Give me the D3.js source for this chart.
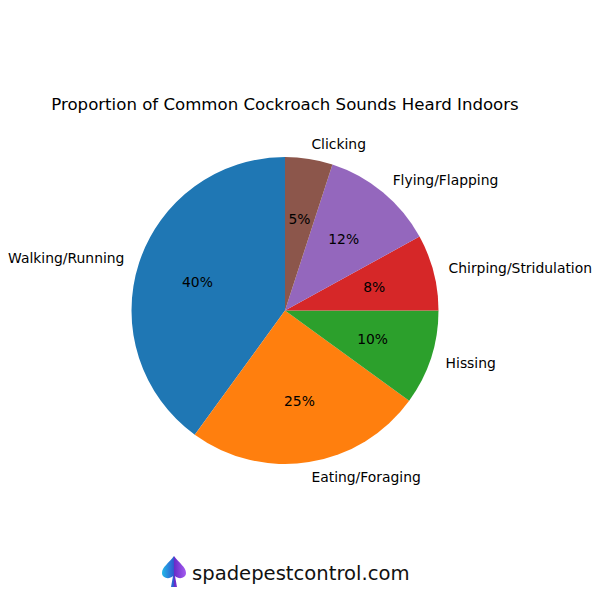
<!DOCTYPE html>
<html><head><meta charset="utf-8">
<script src="https://cdn.jsdelivr.net/npm/d3@7"></script>
<style>body{margin:0;background:#fff}svg{display:block}text{font-family:"DejaVu Sans",sans-serif}</style>
</head><body>
<script>
const categories = ["Walking/Running","Eating/Foraging","Hissing","Chirping/Stridulation","Flying/Flapping","Clicking"];
const values = [40,25,10,8,12,5];
const colors = ["#1f77b4","#ff7f0e","#2ca02c","#d62728","#9467bd","#8c564b"];
const title = "Proportion of Common Cockroach Sounds Heard Indoors";
const watermark = "spadepestcontrol.com";

const W=600,H=600,cx=285,cy=310.5,r=153.5;
const svg=d3.select("body").append("svg").attr("width",W).attr("height",H);
const total=d3.sum(values);
// matplotlib: start at 90deg, counterclockwise
const pie=d3.pie().sort(null).value(d=>d).startAngle(0).endAngle(-2*Math.PI);
const arcs=pie(values);
const arc=d3.arc().innerRadius(0).outerRadius(r);
const g=svg.append("g").attr("transform",`translate(${cx},${cy})`);
g.selectAll("path").data(arcs).enter().append("path").attr("d",arc).attr("fill",(d,i)=>colors[i]);
arcs.forEach((a,i)=>{
  const m=(a.startAngle+a.endAngle)/2;
  const x=Math.sin(m), y=-Math.cos(m);
  g.append("text").attr("x",1.1*r*x).attr("y",1.1*r*y).attr("dy","0.35em")
   .attr("text-anchor",x>=0?"start":"end").attr("font-size","13.9px").attr("fill","#000").text(categories[i]);
  g.append("text").attr("x",0.6*r*x).attr("y",0.6*r*y).attr("dy","0.35em")
   .attr("text-anchor","middle").attr("font-size","13.9px").attr("fill","#000").text(d3.format(".0f")(values[i]/total*100)+"%");
});
svg.append("text").attr("x",285).attr("y",104).attr("dy","0.35em").attr("text-anchor","middle").attr("font-size","16.6px").text(title);
// logo
const defs=svg.append("defs");
const gr=defs.append("linearGradient").attr("id","lg").attr("x1","0").attr("x2","1").attr("y1","0").attr("y2","0");
gr.append("stop").attr("offset","0").attr("stop-color","#22b8e8");
gr.append("stop").attr("offset","0.48").attr("stop-color","#2f5cd0");
gr.append("stop").attr("offset","0.52").attr("stop-color","#6a2cc8");
gr.append("stop").attr("offset","1").attr("stop-color","#a45cf0");
const lg=svg.append("g").attr("transform","translate(174,556)");
lg.append("path").attr("d","M0,0 C-5,7 -12,11 -12,17 C-12,22 -5,24 -1,20 L-3,31 L3,31 L1,20 C5,24 12,22 12,17 C12,11 5,7 0,0 Z").attr("fill","url(#lg)");
svg.append("text").attr("x",192).attr("y",573).attr("dy","0.35em").attr("font-size","19.6px").attr("fill","#111").text(watermark);
</script>
</body></html>
